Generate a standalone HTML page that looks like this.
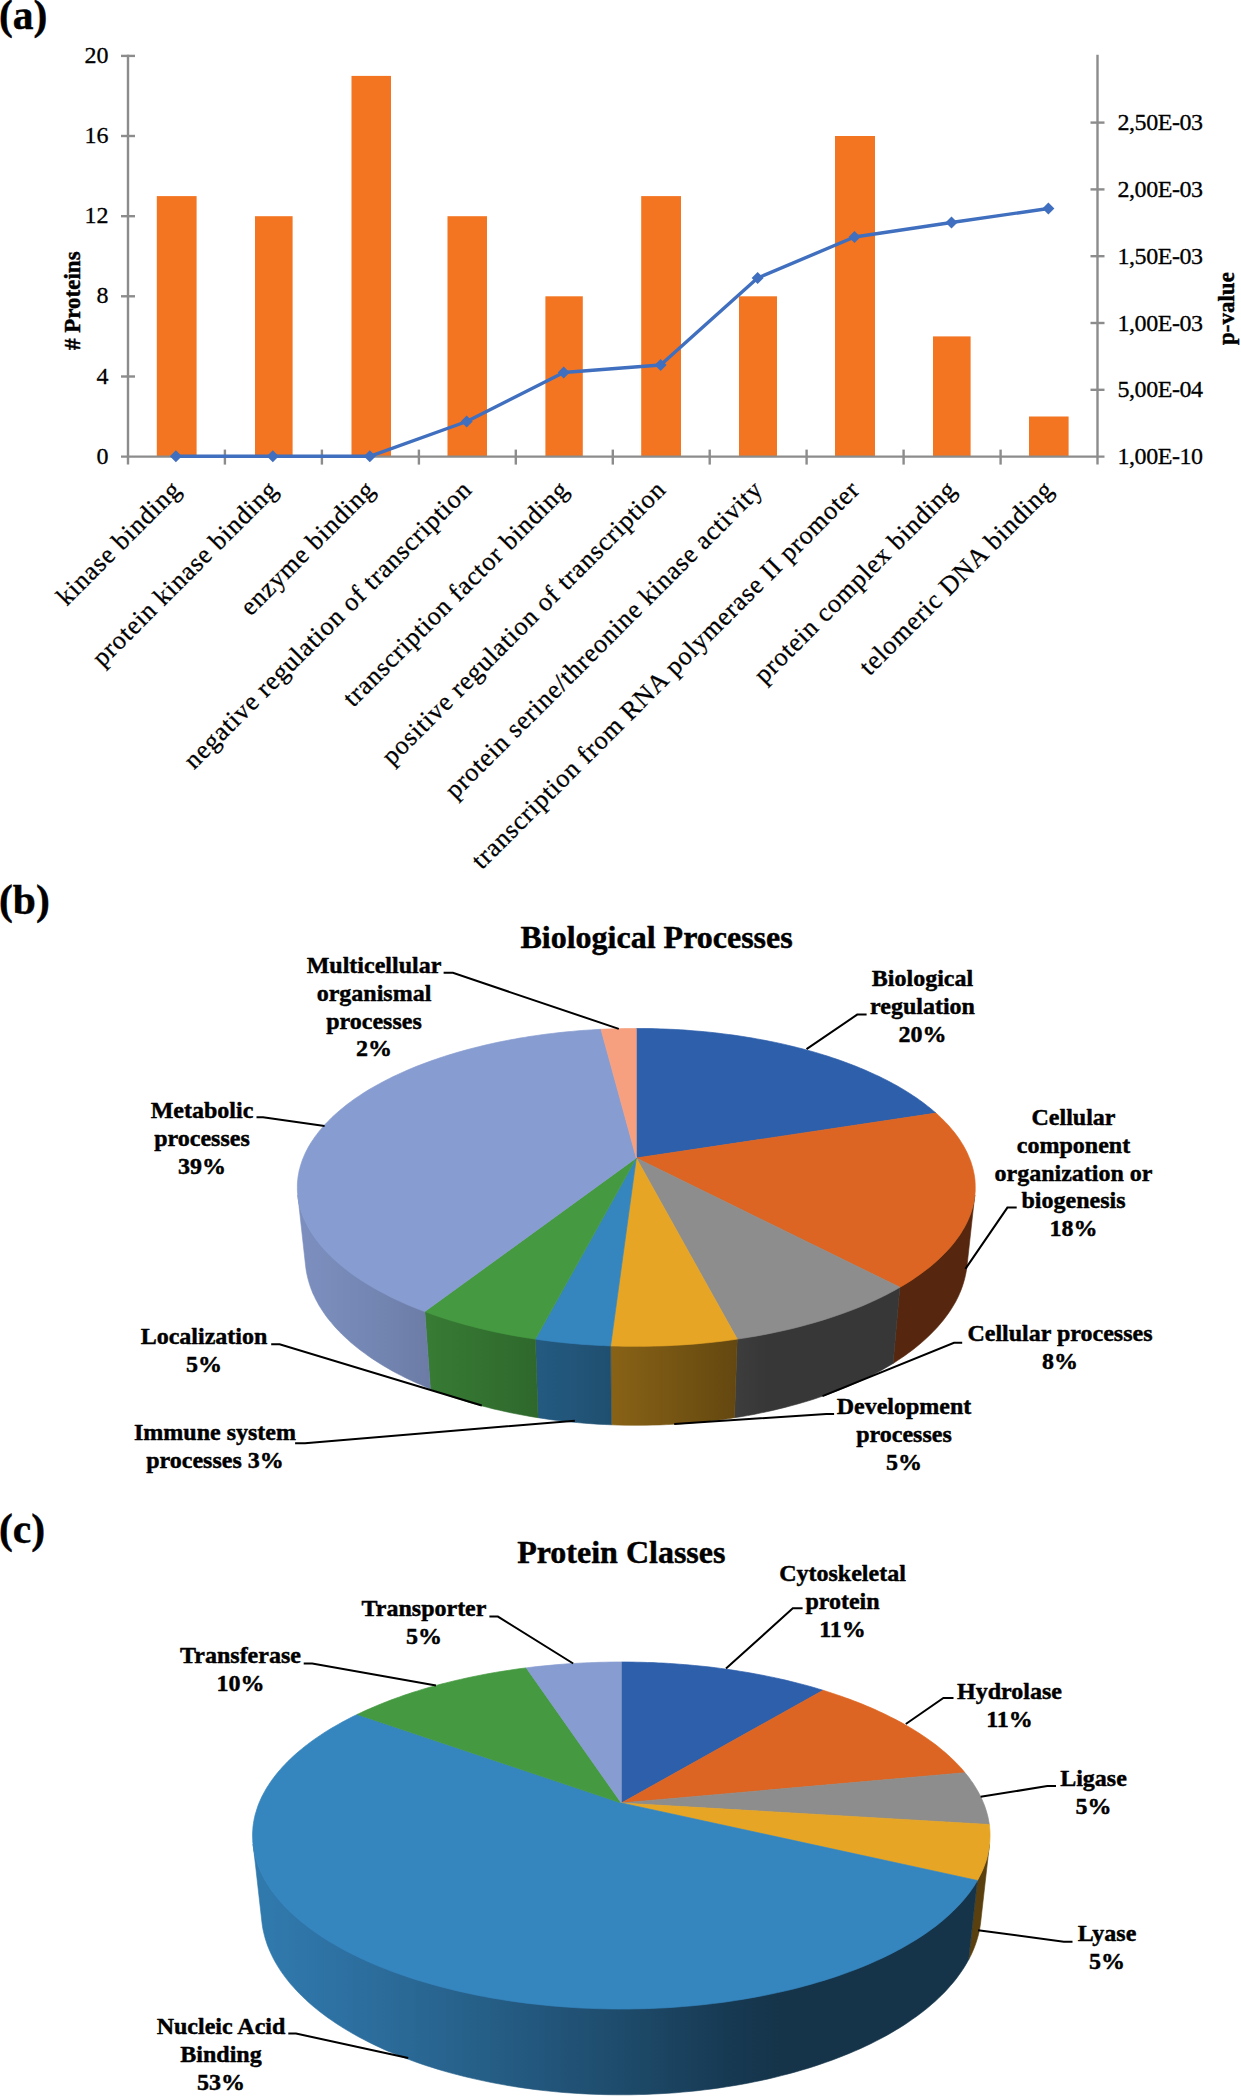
<!DOCTYPE html>
<html lang="en"><head><meta charset="utf-8"><title>Figure</title>
<style>html,body{margin:0;padding:0;background:#fff}svg{display:block}text{font-family:"Liberation Serif", "DejaVu Serif", serif;fill:#000;stroke:#000;stroke-width:0.3px}text[font-weight=bold]{stroke:#000;stroke-width:0.45px;stroke-linejoin:round}</style></head><body>
<svg width="1241" height="2099" viewBox="0 0 1241 2099">
<rect width="1241" height="2099" fill="#fff"/>
<g id="chart-a">
<text x="-1" y="29" font-size="41.5" font-weight="bold">(a)</text>
<rect x="156.8" y="196.1" width="39.8" height="260.5" fill="#f47521"/>
<rect x="255" y="216.2" width="37.6" height="240.4" fill="#f47521"/>
<rect x="351.5" y="75.9" width="39.5" height="380.7" fill="#f47521"/>
<rect x="447.5" y="216.2" width="39.5" height="240.4" fill="#f47521"/>
<rect x="545.4" y="296.3" width="37.4" height="160.3" fill="#f47521"/>
<rect x="641.2" y="196.1" width="39.8" height="260.5" fill="#f47521"/>
<rect x="739" y="296.3" width="38" height="160.3" fill="#f47521"/>
<rect x="835" y="136" width="40" height="320.6" fill="#f47521"/>
<rect x="933" y="336.4" width="37.6" height="120.2" fill="#f47521"/>
<rect x="1029" y="416.5" width="39.6" height="40.1" fill="#f47521"/>
<g stroke="#8c8c8c" stroke-width="2.4" fill="none">
<path d="M128.0 54.699999999999996V464.6"/>
<path d="M1097.5 54.699999999999996V464.6"/>
<path d="M121.0 456.6H1104.5"/>
<path d="M121.0 55.9h14"/>
<path d="M121.0 136h14"/>
<path d="M121.0 216.2h14"/>
<path d="M121.0 296.3h14"/>
<path d="M121.0 376.5h14"/>
<path d="M1090.5 389.8h14"/>
<path d="M1090.5 323h14"/>
<path d="M1090.5 256.2h14"/>
<path d="M1090.5 189.4h14"/>
<path d="M1090.5 122.6h14"/>
<path d="M224.9 449.6v15"/>
<path d="M321.9 449.6v15"/>
<path d="M418.9 449.6v15"/>
<path d="M515.8 449.6v15"/>
<path d="M612.8 449.6v15"/>
<path d="M709.7 449.6v15"/>
<path d="M806.6 449.6v15"/>
<path d="M903.6 449.6v15"/>
<path d="M1000.6 449.6v15"/>
</g>
<g font-size="24" text-anchor="end">
<text x="108.5" y="62.9">20</text>
<text x="108.5" y="143">16</text>
<text x="108.5" y="223.2">12</text>
<text x="108.5" y="303.3">8</text>
<text x="108.5" y="383.5">4</text>
<text x="108.5" y="463.6">0</text>
</g>
<g font-size="24" letter-spacing="-0.45">
<text x="1117.5" y="464.2">1,00E-10</text>
<text x="1117.5" y="397.4">5,00E-04</text>
<text x="1117.5" y="330.6">1,00E-03</text>
<text x="1117.5" y="263.8">1,50E-03</text>
<text x="1117.5" y="197">2,00E-03</text>
<text x="1117.5" y="130.2">2,50E-03</text>
</g>
<text transform="translate(79.9 350) rotate(-90)" font-size="23" font-weight="bold"># Proteins</text>
<text transform="translate(1233.5 345) rotate(-90)" font-size="23" font-weight="bold">p-value</text>
<path d="M175.9 456.3 L272.8 456.3 L369.8 456.3 L466.7 421.5 L563.7 372.5 L660.6 365 L757.6 278 L854.5 237 L951.5 222.5 L1048.4 208.5" fill="none" stroke="#3f6fbe" stroke-width="3.4" stroke-linejoin="round"/>
<path d="M169.9 456.3L175.9 450.3L181.9 456.3L175.9 462.3Z" fill="#3f6fbe"/>
<path d="M266.8 456.3L272.8 450.3L278.8 456.3L272.8 462.3Z" fill="#3f6fbe"/>
<path d="M363.8 456.3L369.8 450.3L375.8 456.3L369.8 462.3Z" fill="#3f6fbe"/>
<path d="M460.7 421.5L466.7 415.5L472.7 421.5L466.7 427.5Z" fill="#3f6fbe"/>
<path d="M557.7 372.5L563.7 366.5L569.7 372.5L563.7 378.5Z" fill="#3f6fbe"/>
<path d="M654.6 365L660.6 359L666.6 365L660.6 371Z" fill="#3f6fbe"/>
<path d="M751.6 278L757.6 272L763.6 278L757.6 284Z" fill="#3f6fbe"/>
<path d="M848.5 237L854.5 231L860.5 237L854.5 243Z" fill="#3f6fbe"/>
<path d="M945.5 222.5L951.5 216.5L957.5 222.5L951.5 228.5Z" fill="#3f6fbe"/>
<path d="M1042.4 208.5L1048.4 202.5L1054.4 208.5L1048.4 214.5Z" fill="#3f6fbe"/>
<g font-size="26" text-anchor="end" letter-spacing="0.8">
<text transform="translate(182.5 491) rotate(-45)">kinase binding</text>
<text transform="translate(279.4 491) rotate(-45)">protein kinase binding</text>
<text transform="translate(376.4 491) rotate(-45)">enzyme binding</text>
<text transform="translate(473.3 491) rotate(-45)">negative regulation of transcription</text>
<text transform="translate(570.3 491) rotate(-45)">transcription factor binding</text>
<text transform="translate(667.2 491) rotate(-45)">positive regulation of transcription</text>
<text transform="translate(764.2 491) rotate(-45)">protein serine/threonine kinase activity</text>
<text transform="translate(861.1 491) rotate(-45)">transcription from RNA polymerase II promoter</text>
<text transform="translate(958.1 491) rotate(-45)">protein complex binding</text>
<text transform="translate(1055 491) rotate(-45)">telomeric DNA binding</text>
</g>
</g>
<text x="-1" y="914.3" font-size="41.5" font-weight="bold">(b)</text>
<text x="656.6" y="948" font-size="32" font-weight="bold" text-anchor="middle">Biological Processes</text>
<g id="pieb">
<defs><linearGradient id="piebg1" gradientUnits="userSpaceOnUse" x1="893.1" y1="0" x2="974.8" y2="0"><stop offset="0.042" stop-color="#56270e"/><stop offset="0.303" stop-color="#56270e"/><stop offset="0.521" stop-color="#56270e"/><stop offset="0.695" stop-color="#56270e"/><stop offset="0.824" stop-color="#56270e"/><stop offset="0.909" stop-color="#56270e"/><stop offset="0.952" stop-color="#56270e"/></linearGradient><linearGradient id="piebg2" gradientUnits="userSpaceOnUse" x1="734.5" y1="0" x2="899.9" y2="0"><stop offset="0.008" stop-color="#3d3d3d"/><stop offset="0.198" stop-color="#373737"/><stop offset="0.379" stop-color="#373737"/><stop offset="0.549" stop-color="#373737"/><stop offset="0.707" stop-color="#373737"/><stop offset="0.850" stop-color="#373737"/><stop offset="0.979" stop-color="#373737"/></linearGradient><linearGradient id="piebg3" gradientUnits="userSpaceOnUse" x1="610.6" y1="0" x2="737.2" y2="0"><stop offset="0.003" stop-color="#886216"/><stop offset="0.169" stop-color="#825e15"/><stop offset="0.336" stop-color="#7c5914"/><stop offset="0.502" stop-color="#765513"/><stop offset="0.667" stop-color="#705112"/><stop offset="0.829" stop-color="#6a4c11"/><stop offset="0.989" stop-color="#644810"/></linearGradient><linearGradient id="piebg4" gradientUnits="userSpaceOnUse" x1="535.4" y1="0" x2="611.3" y2="0"><stop offset="0.018" stop-color="#245a81"/><stop offset="0.177" stop-color="#23587e"/><stop offset="0.338" stop-color="#22577c"/><stop offset="0.501" stop-color="#225579"/><stop offset="0.665" stop-color="#215376"/><stop offset="0.830" stop-color="#205173"/><stop offset="0.995" stop-color="#1f4f70"/></linearGradient><linearGradient id="piebg5" gradientUnits="userSpaceOnUse" x1="424.8" y1="0" x2="538.1" y2="0"><stop offset="0.025" stop-color="#377b34"/><stop offset="0.169" stop-color="#367833"/><stop offset="0.321" stop-color="#357532"/><stop offset="0.479" stop-color="#337230"/><stop offset="0.644" stop-color="#326f2f"/><stop offset="0.813" stop-color="#306c2e"/><stop offset="0.988" stop-color="#2f682c"/></linearGradient><linearGradient id="piebg6" gradientUnits="userSpaceOnUse" x1="297.8" y1="0" x2="430.4" y2="0"><stop offset="0.030" stop-color="#7b8ebd"/><stop offset="0.062" stop-color="#7b8ebd"/><stop offset="0.128" stop-color="#7a8dbd"/><stop offset="0.228" stop-color="#798cba"/><stop offset="0.365" stop-color="#7789b7"/><stop offset="0.536" stop-color="#7486b3"/><stop offset="0.742" stop-color="#7082ad"/><stop offset="0.979" stop-color="#6c7ca6"/></linearGradient></defs>
<path d="M974.8 1195.1 L974.4 1197.9 L974 1200.7 L973.4 1203.5 L972.7 1206.3 L971.9 1209.1 L971 1211.9 L970 1214.7 L968.9 1217.5 L967.7 1220.3 L966.3 1223.1 L964.9 1225.9 L963.3 1228.7 L961.6 1231.4 L959.8 1234.2 L957.9 1237 L955.9 1239.8 L953.7 1242.5 L951.5 1245.3 L949.1 1248 L946.6 1250.7 L944 1253.4 L941.3 1256.1 L938.5 1258.8 L935.6 1261.4 L932.5 1264.1 L929.3 1266.7 L926 1269.3 L922.6 1271.9 L919.1 1274.4 L915.5 1276.9 L911.8 1279.4 L907.9 1281.9 L903.9 1284.3 L899.9 1286.7 L893.1 1363.4 L897.1 1360.8 L900.9 1358.3 L904.7 1355.7 L908.4 1353 L911.9 1350.4 L915.4 1347.7 L918.7 1345 L921.9 1342.3 L925 1339.5 L928 1336.7 L930.9 1333.9 L933.7 1331.1 L936.4 1328.3 L938.9 1325.4 L941.4 1322.6 L943.7 1319.7 L945.9 1316.8 L948 1313.9 L950 1311 L951.9 1308.1 L953.7 1305.1 L955.4 1302.2 L956.9 1299.3 L958.4 1296.3 L959.7 1293.3 L960.9 1290.4 L962 1287.4 L963 1284.5 L963.9 1281.5 L964.7 1278.6 L965.4 1275.6 L966 1272.7 L966.5 1269.7 L966.9 1266.8Z" fill="url(#piebg1)" stroke="url(#piebg1)" stroke-width="0.6"/>
<path d="M899.9 1286.7 L895.6 1289.2 L891.3 1291.5 L886.8 1293.9 L882.2 1296.2 L877.5 1298.5 L872.7 1300.7 L867.8 1302.9 L862.8 1305.1 L857.7 1307.2 L852.5 1309.2 L847.2 1311.2 L841.7 1313.2 L836.2 1315.1 L830.7 1317 L825 1318.8 L819.2 1320.6 L813.3 1322.3 L807.4 1324 L801.4 1325.6 L795.3 1327.2 L789.1 1328.7 L782.8 1330.1 L776.5 1331.5 L770.1 1332.8 L763.6 1334.1 L757.1 1335.3 L750.5 1336.4 L743.9 1337.5 L737.2 1338.5 L734.5 1417.7 L741 1416.7 L747.5 1415.6 L753.9 1414.4 L760.2 1413.1 L766.5 1411.8 L772.7 1410.4 L778.9 1408.9 L785 1407.4 L791 1405.8 L796.9 1404.2 L802.8 1402.5 L808.6 1400.8 L814.3 1399 L819.9 1397.1 L825.5 1395.2 L830.9 1393.2 L836.3 1391.2 L841.6 1389.1 L846.8 1387 L851.8 1384.8 L856.8 1382.6 L861.7 1380.4 L866.5 1378 L871.2 1375.7 L875.8 1373.3 L880.3 1370.9 L884.6 1368.4 L888.9 1365.9 L893.1 1363.4Z" fill="url(#piebg2)" stroke="url(#piebg2)" stroke-width="0.6"/>
<path d="M737.2 1338.5 L730.4 1339.5 L723.6 1340.4 L716.7 1341.2 L709.8 1342 L702.9 1342.6 L695.9 1343.3 L688.8 1343.8 L681.8 1344.3 L674.7 1344.7 L667.6 1345.1 L660.5 1345.3 L653.4 1345.5 L646.3 1345.7 L639.2 1345.7 L632 1345.7 L624.9 1345.7 L617.8 1345.5 L610.6 1345.3 L611.3 1424.8 L618.3 1425.1 L625.2 1425.2 L632.1 1425.3 L639.1 1425.3 L646 1425.2 L652.9 1425.1 L659.9 1424.9 L666.8 1424.6 L673.7 1424.2 L680.6 1423.8 L687.4 1423.3 L694.2 1422.7 L701 1422.1 L707.8 1421.3 L714.5 1420.5 L721.2 1419.7 L727.9 1418.8 L734.5 1417.7Z" fill="url(#piebg3)" stroke="url(#piebg3)" stroke-width="0.6"/>
<path d="M610.6 1345.3 L603.7 1345 L596.7 1344.7 L589.8 1344.2 L582.9 1343.8 L576 1343.2 L569.1 1342.6 L562.3 1341.9 L555.5 1341.2 L548.7 1340.3 L542 1339.5 L535.4 1338.5 L538.1 1417.7 L544.6 1418.7 L551.1 1419.7 L557.7 1420.5 L564.3 1421.3 L570.9 1422 L577.6 1422.6 L584.3 1423.2 L591 1423.7 L597.8 1424.2 L604.6 1424.5 L611.3 1424.8Z" fill="url(#piebg4)" stroke="url(#piebg4)" stroke-width="0.6"/>
<path d="M535.4 1338.5 L528.6 1337.5 L522 1336.4 L515.3 1335.3 L508.8 1334.1 L502.3 1332.8 L495.8 1331.5 L489.5 1330.1 L483.2 1328.6 L477 1327.1 L470.8 1325.5 L464.8 1323.9 L458.8 1322.2 L452.9 1320.5 L447.1 1318.7 L441.4 1316.8 L435.7 1314.9 L430.2 1313 L424.8 1311 L430.4 1388.9 L435.7 1390.9 L441.1 1393 L446.5 1395 L452.1 1396.9 L457.8 1398.8 L463.5 1400.6 L469.3 1402.4 L475.2 1404.1 L481.2 1405.7 L487.3 1407.3 L493.4 1408.9 L499.6 1410.3 L505.9 1411.7 L512.2 1413.1 L518.6 1414.3 L525.1 1415.5 L531.6 1416.7 L538.1 1417.7Z" fill="url(#piebg5)" stroke="url(#piebg5)" stroke-width="0.6"/>
<path d="M424.8 1311 L419.6 1309 L414.4 1307 L409.4 1304.9 L404.5 1302.8 L399.7 1300.6 L394.9 1298.4 L390.3 1296.2 L385.8 1293.9 L381.4 1291.6 L377.1 1289.2 L372.9 1286.8 L368.8 1284.4 L364.9 1282 L361 1279.5 L357.2 1277 L353.6 1274.5 L350.1 1271.9 L346.7 1269.4 L343.4 1266.8 L340.2 1264.2 L337.1 1261.5 L334.2 1258.9 L331.3 1256.2 L328.6 1253.5 L326 1250.8 L323.5 1248.1 L321.2 1245.3 L318.9 1242.6 L316.8 1239.8 L314.7 1237 L312.8 1234.3 L311 1231.5 L309.3 1228.7 L307.8 1225.9 L306.3 1223.1 L305 1220.3 L303.7 1217.5 L302.6 1214.7 L301.6 1211.9 L300.7 1209.1 L299.9 1206.3 L299.2 1203.5 L298.6 1200.7 L298.2 1197.9 L297.8 1195.1 L305.7 1266.8 L306.1 1269.7 L306.6 1272.7 L307.2 1275.6 L307.9 1278.6 L308.7 1281.5 L309.6 1284.5 L310.6 1287.5 L311.7 1290.4 L312.9 1293.4 L314.3 1296.3 L315.7 1299.3 L317.3 1302.2 L318.9 1305.2 L320.7 1308.1 L322.6 1311 L324.6 1314 L326.7 1316.9 L328.9 1319.8 L331.3 1322.6 L333.7 1325.5 L336.3 1328.4 L339 1331.2 L341.7 1334 L344.6 1336.8 L347.7 1339.6 L350.8 1342.4 L354 1345.1 L357.3 1347.8 L360.8 1350.5 L364.4 1353.1 L368 1355.8 L371.8 1358.4 L375.7 1360.9 L379.7 1363.5 L383.8 1366 L388 1368.4 L392.3 1370.9 L396.7 1373.3 L401.2 1375.6 L405.8 1377.9 L410.6 1380.2 L415.4 1382.4 L420.3 1384.6 L425.3 1386.8 L430.4 1388.9Z" fill="url(#piebg6)" stroke="url(#piebg6)" stroke-width="0.6"/>
<path d="M636.3 1158 L636.3 1028.5 L641.2 1028.5 L646.1 1028.5 L651 1028.6 L655.9 1028.7 L660.8 1028.9 L665.7 1029.1 L670.6 1029.3 L675.5 1029.5 L680.4 1029.8 L685.2 1030.1 L690.1 1030.5 L694.9 1030.9 L699.8 1031.3 L704.6 1031.7 L709.4 1032.2 L714.3 1032.7 L719 1033.3 L723.8 1033.9 L728.6 1034.5 L733.4 1035.1 L738.1 1035.8 L742.8 1036.5 L747.5 1037.3 L752.2 1038 L756.9 1038.9 L761.5 1039.7 L766.1 1040.6 L770.7 1041.5 L775.3 1042.4 L779.9 1043.4 L784.4 1044.4 L788.9 1045.5 L793.4 1046.6 L797.8 1047.7 L802.2 1048.8 L806.6 1050 L811 1051.2 L815.3 1052.4 L819.6 1053.7 L823.8 1055 L828.1 1056.3 L832.2 1057.7 L836.4 1059.1 L840.5 1060.5 L844.6 1062 L848.6 1063.5 L852.6 1065 L856.6 1066.6 L860.5 1068.2 L864.4 1069.8 L868.2 1071.5 L871.9 1073.2 L875.7 1074.9 L879.4 1076.6 L883 1078.4 L886.6 1080.2 L890.1 1082.1 L893.6 1083.9 L897 1085.8 L900.3 1087.7 L903.7 1089.7 L906.9 1091.7 L910.1 1093.7 L913.2 1095.8 L916.3 1097.8 L919.3 1099.9 L922.3 1102.1 L925.1 1104.2 L927.9 1106.4 L930.7 1108.6 L933.4 1110.9 L936 1113.1Z" fill="#2e5fab" stroke="#2e5fab" stroke-width="0.7" stroke-linejoin="round"/>
<path d="M636.3 1158 L936 1113.1 L938.5 1115.4 L940.9 1117.7 L943.3 1120.1 L945.6 1122.4 L947.9 1124.8 L950 1127.2 L952.1 1129.7 L954.1 1132.1 L956 1134.6 L957.8 1137.1 L959.6 1139.6 L961.2 1142.2 L962.8 1144.7 L964.3 1147.3 L965.7 1149.9 L967 1152.5 L968.2 1155.2 L969.3 1157.9 L970.4 1160.5 L971.3 1163.2 L972.1 1165.9 L972.9 1168.7 L973.5 1171.4 L974.1 1174.2 L974.5 1176.9 L974.9 1179.7 L975.1 1182.5 L975.2 1185.3 L975.2 1188.1 L975.2 1190.9 L975 1193.8 L974.7 1196.6 L974.3 1199.4 L973.8 1202.3 L973.1 1205.1 L972.4 1208 L971.5 1210.9 L970.6 1213.7 L969.5 1216.6 L968.3 1219.4 L967 1222.3 L965.6 1225.1 L964 1228 L962.3 1230.8 L960.6 1233.7 L958.7 1236.5 L956.6 1239.3 L954.5 1242.2 L952.2 1245 L949.9 1247.8 L947.4 1250.5 L944.7 1253.3 L942 1256 L939.2 1258.8 L936.2 1261.5 L933.1 1264.2 L929.9 1266.9 L926.5 1269.5 L923.1 1272.1 L919.5 1274.7 L915.8 1277.3 L912 1279.9 L908.1 1282.4 L904 1284.9 L899.9 1287.3Z" fill="#dd6523" stroke="#dd6523" stroke-width="0.7" stroke-linejoin="round"/>
<path d="M636.3 1158 L899.9 1287.3 L895.6 1289.8 L891.3 1292.1 L886.8 1294.5 L882.2 1296.8 L877.5 1299.1 L872.7 1301.3 L867.8 1303.5 L862.8 1305.7 L857.7 1307.8 L852.5 1309.8 L847.2 1311.8 L841.7 1313.8 L836.2 1315.7 L830.7 1317.6 L825 1319.4 L819.2 1321.2 L813.3 1322.9 L807.4 1324.6 L801.4 1326.2 L795.3 1327.8 L789.1 1329.3 L782.8 1330.7 L776.5 1332.1 L770.1 1333.4 L763.6 1334.7 L757.1 1335.9 L750.5 1337 L743.9 1338.1 L737.2 1339.1Z" fill="#8d8d8d" stroke="#8d8d8d" stroke-width="0.7" stroke-linejoin="round"/>
<path d="M636.3 1158 L737.2 1339.1 L730.4 1340.1 L723.6 1341 L716.7 1341.8 L709.8 1342.6 L702.9 1343.2 L695.9 1343.9 L688.8 1344.4 L681.8 1344.9 L674.7 1345.3 L667.6 1345.7 L660.5 1345.9 L653.4 1346.1 L646.3 1346.3 L639.2 1346.3 L632 1346.3 L624.9 1346.3 L617.8 1346.1 L610.6 1345.9Z" fill="#e6a525" stroke="#e6a525" stroke-width="0.7" stroke-linejoin="round"/>
<path d="M636.3 1158 L610.6 1345.9 L603.7 1345.6 L596.7 1345.3 L589.8 1344.8 L582.9 1344.4 L576 1343.8 L569.1 1343.2 L562.3 1342.5 L555.5 1341.8 L548.7 1340.9 L542 1340.1 L535.4 1339.1Z" fill="#3585be" stroke="#3585be" stroke-width="0.7" stroke-linejoin="round"/>
<path d="M636.3 1158 L535.4 1339.1 L528.6 1338.1 L522 1337 L515.3 1335.9 L508.8 1334.7 L502.3 1333.4 L495.8 1332.1 L489.5 1330.7 L483.2 1329.2 L477 1327.7 L470.8 1326.1 L464.8 1324.5 L458.8 1322.8 L452.9 1321.1 L447.1 1319.3 L441.4 1317.4 L435.7 1315.5 L430.2 1313.6 L424.8 1311.6Z" fill="#459a41" stroke="#459a41" stroke-width="0.7" stroke-linejoin="round"/>
<path d="M636.3 1158 L424.8 1311.6 L419.5 1309.6 L414.3 1307.5 L409.1 1305.4 L404.1 1303.2 L399.2 1301 L394.4 1298.8 L389.7 1296.5 L385.2 1294.1 L380.7 1291.8 L376.3 1289.4 L372.1 1287 L368 1284.5 L363.9 1282 L360 1279.5 L356.2 1276.9 L352.6 1274.4 L349 1271.8 L345.6 1269.1 L342.3 1266.5 L339.1 1263.8 L336 1261.1 L333 1258.4 L330.2 1255.7 L327.5 1252.9 L324.9 1250.2 L322.4 1247.4 L320 1244.6 L317.8 1241.8 L315.7 1239 L313.7 1236.1 L311.8 1233.3 L310 1230.5 L308.4 1227.6 L306.9 1224.8 L305.4 1221.9 L304.1 1219.1 L303 1216.2 L301.9 1213.4 L300.9 1210.5 L300.1 1207.7 L299.4 1204.8 L298.8 1202 L298.3 1199.1 L297.9 1196.3 L297.6 1193.4 L297.4 1190.6 L297.4 1187.8 L297.4 1185 L297.5 1182.2 L297.8 1179.4 L298.1 1176.6 L298.6 1173.9 L299.1 1171.1 L299.8 1168.4 L300.5 1165.7 L301.4 1163 L302.3 1160.3 L303.4 1157.6 L304.5 1154.9 L305.7 1152.3 L307 1149.7 L308.4 1147.1 L309.9 1144.5 L311.5 1141.9 L313.2 1139.4 L314.9 1136.9 L316.8 1134.4 L318.7 1131.9 L320.7 1129.4 L322.8 1127 L324.9 1124.6 L327.2 1122.2 L329.5 1119.9 L331.8 1117.5 L334.3 1115.2 L336.8 1113 L339.4 1110.7 L342.1 1108.5 L344.8 1106.3 L347.6 1104.1 L350.5 1101.9 L353.4 1099.8 L356.4 1097.7 L359.5 1095.7 L362.6 1093.6 L365.8 1091.6 L369 1089.6 L372.3 1087.7 L375.7 1085.8 L379.1 1083.9 L382.6 1082 L386.1 1080.2 L389.6 1078.4 L393.2 1076.6 L396.9 1074.9 L400.6 1073.2 L404.4 1071.5 L408.2 1069.8 L412 1068.2 L415.9 1066.6 L419.9 1065.1 L423.8 1063.6 L427.9 1062.1 L431.9 1060.6 L436 1059.2 L440.1 1057.8 L444.3 1056.4 L448.5 1055.1 L452.8 1053.8 L457 1052.5 L461.3 1051.3 L465.7 1050.1 L470 1048.9 L474.4 1047.8 L478.8 1046.7 L483.3 1045.6 L487.8 1044.5 L492.3 1043.5 L496.8 1042.5 L501.4 1041.6 L505.9 1040.7 L510.5 1039.8 L515.2 1039 L519.8 1038.1 L524.5 1037.4 L529.1 1036.6 L533.8 1035.9 L538.6 1035.2 L543.3 1034.6 L548 1033.9 L552.8 1033.4 L557.6 1032.8 L562.4 1032.3 L567.2 1031.8 L572 1031.4 L576.8 1030.9 L581.6 1030.5 L586.5 1030.2 L591.3 1029.9 L596.2 1029.6 L601 1029.3Z" fill="#879cd0" stroke="#879cd0" stroke-width="0.7" stroke-linejoin="round"/>
<path d="M636.3 1158 L601 1029.3 L605.4 1029.1 L609.8 1028.9 L614.2 1028.8 L618.6 1028.7 L623.1 1028.6 L627.5 1028.5 L631.9 1028.5 L636.3 1028.5Z" fill="#f7a07f" stroke="#f7a07f" stroke-width="0.7" stroke-linejoin="round"/>
</g>
<g id="labels-b">
<path d="M443.6 972.8 L452.9 972.8 L618.8 1028.9" fill="none" stroke="#000" stroke-width="2" stroke-linejoin="miter"/>
<path d="M256.5 1117.2 L263 1117.2 L324.6 1126" fill="none" stroke="#000" stroke-width="2" stroke-linejoin="miter"/>
<path d="M271.2 1344.3 L279.6 1344.3 L481.8 1405.5" fill="none" stroke="#000" stroke-width="2" stroke-linejoin="miter"/>
<path d="M295.1 1443.2 L305 1443.2 L574.9 1420.7" fill="none" stroke="#000" stroke-width="2" stroke-linejoin="miter"/>
<path d="M866.6 1014.6 L857.2 1014.6 L806.5 1049.2" fill="none" stroke="#000" stroke-width="2" stroke-linejoin="miter"/>
<path d="M1016.7 1207.6 L1007.4 1207.6 L965.4 1268.9" fill="none" stroke="#000" stroke-width="2" stroke-linejoin="miter"/>
<path d="M962.2 1342.7 L954 1342.7 L822.5 1396.1" fill="none" stroke="#000" stroke-width="2" stroke-linejoin="miter"/>
<path d="M834.1 1413.9 L826.3 1413.9 L674.2 1423.9" fill="none" stroke="#000" stroke-width="2" stroke-linejoin="miter"/>
<text font-size="24" font-weight="bold" text-anchor="middle"><tspan x="374" y="972.8">Multicellular</tspan><tspan x="374" y="1000.6">organismal</tspan><tspan x="374" y="1028.5">processes</tspan><tspan x="374" y="1056.3">2%</tspan></text>
<text font-size="24" font-weight="bold" text-anchor="middle"><tspan x="202" y="1117.8">Metabolic</tspan><tspan x="202" y="1145.6">processes</tspan><tspan x="202" y="1173.5">39%</tspan></text>
<text font-size="24" font-weight="bold" text-anchor="middle"><tspan x="204" y="1343.8">Localization</tspan><tspan x="204" y="1371.6">5%</tspan></text>
<text font-size="24" font-weight="bold" text-anchor="middle"><tspan x="215" y="1439.8">Immune system</tspan><tspan x="215" y="1467.6">processes 3%</tspan></text>
<text font-size="24" font-weight="bold" text-anchor="middle"><tspan x="922.5" y="986.3">Biological</tspan><tspan x="922.5" y="1014.1">regulation</tspan><tspan x="922.5" y="1042">20%</tspan></text>
<text font-size="24" font-weight="bold" text-anchor="middle"><tspan x="1073.5" y="1124.8">Cellular</tspan><tspan x="1073.5" y="1152.6">component</tspan><tspan x="1073.5" y="1180.5">organization or</tspan><tspan x="1073.5" y="1208.3">biogenesis</tspan><tspan x="1073.5" y="1236.2">18%</tspan></text>
<text font-size="24" font-weight="bold" text-anchor="middle"><tspan x="1060" y="1341.3">Cellular processes</tspan><tspan x="1060" y="1369.1">8%</tspan></text>
<text font-size="24" font-weight="bold" text-anchor="middle"><tspan x="904" y="1413.8">Development</tspan><tspan x="904" y="1441.6">processes</tspan><tspan x="904" y="1469.5">5%</tspan></text>
</g>
<text x="-1" y="1542.7" font-size="41.5" font-weight="bold">(c)</text>
<text x="621.3" y="1563" font-size="32" font-weight="bold" text-anchor="middle">Protein Classes</text>
<g id="piec">
<defs><linearGradient id="piecg3" gradientUnits="userSpaceOnUse" x1="968.6" y1="0" x2="989.5" y2="0"><stop offset="0.211" stop-color="#5a400e"/><stop offset="0.361" stop-color="#5a400e"/><stop offset="0.490" stop-color="#5a400e"/><stop offset="0.597" stop-color="#5a400e"/><stop offset="0.682" stop-color="#5a400e"/><stop offset="0.747" stop-color="#5a400e"/><stop offset="0.790" stop-color="#5a400e"/></linearGradient><linearGradient id="piecg4" gradientUnits="userSpaceOnUse" x1="253.1" y1="0" x2="977.4" y2="0"><stop offset="0.006" stop-color="#3079ac"/><stop offset="0.012" stop-color="#3079ad"/><stop offset="0.025" stop-color="#3079ac"/><stop offset="0.044" stop-color="#3077aa"/><stop offset="0.070" stop-color="#2f75a7"/><stop offset="0.103" stop-color="#2e72a4"/><stop offset="0.142" stop-color="#2c6f9f"/><stop offset="0.187" stop-color="#2b6b99"/><stop offset="0.238" stop-color="#296692"/><stop offset="0.294" stop-color="#26618a"/><stop offset="0.353" stop-color="#245b82"/><stop offset="0.416" stop-color="#225479"/><stop offset="0.480" stop-color="#1f4e6f"/><stop offset="0.545" stop-color="#1c4765"/><stop offset="0.609" stop-color="#193f5b"/><stop offset="0.672" stop-color="#163850"/><stop offset="0.731" stop-color="#15344a"/><stop offset="0.786" stop-color="#15344a"/><stop offset="0.836" stop-color="#15344a"/><stop offset="0.881" stop-color="#15344a"/><stop offset="0.919" stop-color="#15344a"/><stop offset="0.951" stop-color="#15344a"/><stop offset="0.976" stop-color="#15344a"/><stop offset="0.994" stop-color="#15344a"/></linearGradient></defs>
<path d="M989.5 1844.1 L989.1 1847.1 L988.6 1850.1 L988 1853 L987.3 1856 L986.5 1859 L985.5 1862 L984.4 1865 L983.3 1867.9 L982 1870.9 L980.6 1873.9 L979.1 1876.9 L977.4 1879.9 L968.6 1959.7 L970.3 1956.6 L971.8 1953.4 L973.2 1950.3 L974.5 1947.1 L975.6 1944 L976.7 1940.8 L977.6 1937.7 L978.5 1934.5 L979.2 1931.4 L979.8 1928.2 L980.3 1925.1 L980.7 1922Z" fill="url(#piecg3)" stroke="url(#piecg3)" stroke-width="0.6"/>
<path d="M977.4 1879.9 L975.6 1882.9 L973.6 1886 L971.5 1889.1 L969.3 1892.2 L967 1895.3 L964.5 1898.3 L961.9 1901.3 L959.2 1904.4 L956.3 1907.4 L953.3 1910.4 L950.2 1913.3 L946.9 1916.3 L943.5 1919.2 L940 1922.1 L936.4 1925 L932.6 1927.9 L928.7 1930.7 L924.7 1933.5 L920.5 1936.3 L916.2 1939 L911.8 1941.7 L907.3 1944.4 L902.7 1947 L897.9 1949.6 L893 1952.2 L888 1954.7 L882.8 1957.2 L877.6 1959.6 L872.2 1962 L866.7 1964.4 L861.1 1966.7 L855.4 1968.9 L849.6 1971.1 L843.7 1973.3 L837.7 1975.4 L831.6 1977.4 L825.4 1979.4 L819.1 1981.3 L812.7 1983.2 L806.2 1985 L799.6 1986.8 L792.9 1988.4 L786.2 1990.1 L779.3 1991.6 L772.4 1993.1 L765.4 1994.6 L758.4 1995.9 L751.2 1997.2 L744.1 1998.5 L736.8 1999.6 L729.5 2000.7 L722.1 2001.8 L714.7 2002.7 L707.3 2003.6 L699.8 2004.4 L692.2 2005.1 L684.7 2005.8 L677.1 2006.4 L669.4 2006.9 L661.8 2007.3 L654.1 2007.7 L646.4 2008 L638.7 2008.2 L631 2008.3 L623.2 2008.4 L615.5 2008.4 L607.8 2008.3 L600.1 2008.1 L592.4 2007.8 L584.7 2007.5 L577 2007.1 L569.4 2006.6 L561.7 2006.1 L554.1 2005.5 L546.6 2004.8 L539.1 2004 L531.6 2003.2 L524.2 2002.3 L516.8 2001.3 L509.4 2000.2 L502.2 1999.1 L494.9 1997.9 L487.8 1996.6 L480.7 1995.3 L473.7 1993.9 L466.7 1992.4 L459.8 1990.9 L453.1 1989.3 L446.3 1987.6 L439.7 1985.9 L433.2 1984.1 L426.7 1982.3 L420.4 1980.4 L414.1 1978.4 L407.9 1976.4 L401.9 1974.3 L395.9 1972.2 L390 1970 L384.3 1967.8 L378.6 1965.5 L373.1 1963.2 L367.7 1960.8 L362.4 1958.4 L357.2 1956 L352.1 1953.5 L347.2 1950.9 L342.3 1948.3 L337.6 1945.7 L333 1943.1 L328.5 1940.4 L324.2 1937.6 L320 1934.9 L315.9 1932.1 L311.9 1929.3 L308.1 1926.4 L304.4 1923.6 L300.8 1920.7 L297.4 1917.8 L294 1914.8 L290.8 1911.9 L287.8 1908.9 L284.8 1905.9 L282 1902.9 L279.4 1899.8 L276.8 1896.8 L274.4 1893.7 L272.1 1890.7 L270 1887.6 L268 1884.5 L266.1 1881.4 L264.3 1878.3 L262.7 1875.2 L261.1 1872.1 L259.8 1869 L258.5 1865.9 L257.4 1862.8 L256.3 1859.6 L255.5 1856.5 L254.7 1853.4 L254 1850.3 L253.5 1847.2 L253.1 1844.1 L261.9 1922 L262.3 1925.2 L262.8 1928.5 L263.5 1931.8 L264.3 1935.1 L265.2 1938.4 L266.2 1941.6 L267.3 1944.9 L268.6 1948.2 L270 1951.5 L271.5 1954.8 L273.1 1958.1 L274.8 1961.3 L276.7 1964.6 L278.7 1967.8 L280.8 1971.1 L283.1 1974.3 L285.5 1977.6 L288 1980.8 L290.6 1984 L293.4 1987.1 L296.2 1990.3 L299.3 1993.4 L302.4 1996.5 L305.6 1999.6 L309 2002.7 L312.5 2005.8 L316.2 2008.8 L319.9 2011.8 L323.8 2014.7 L327.8 2017.7 L332 2020.6 L336.2 2023.4 L340.6 2026.3 L345.1 2029.1 L349.7 2031.8 L354.4 2034.5 L359.2 2037.2 L364.2 2039.8 L369.3 2042.4 L374.4 2044.9 L379.7 2047.4 L385.1 2049.9 L390.6 2052.3 L396.3 2054.6 L402 2056.9 L407.8 2059.1 L413.7 2061.3 L419.7 2063.4 L425.8 2065.5 L432 2067.4 L438.3 2069.4 L444.7 2071.3 L451.1 2073.1 L457.7 2074.8 L464.3 2076.5 L471 2078.1 L477.7 2079.6 L484.6 2081.1 L491.5 2082.5 L498.4 2083.8 L505.4 2085.1 L512.5 2086.3 L519.7 2087.4 L526.8 2088.4 L534.1 2089.4 L541.3 2090.3 L548.7 2091.1 L556 2091.8 L563.4 2092.5 L570.8 2093 L578.2 2093.5 L585.7 2093.9 L593.2 2094.3 L600.7 2094.5 L608.2 2094.7 L615.7 2094.8 L623.2 2094.8 L630.7 2094.8 L638.2 2094.6 L645.7 2094.4 L653.2 2094.1 L660.6 2093.7 L668.1 2093.3 L675.5 2092.8 L682.9 2092.1 L690.3 2091.4 L697.6 2090.7 L704.9 2089.8 L712.1 2088.9 L719.4 2087.9 L726.5 2086.8 L733.6 2085.7 L740.7 2084.5 L747.7 2083.2 L754.6 2081.8 L761.5 2080.4 L768.3 2078.9 L775 2077.3 L781.6 2075.6 L788.2 2073.9 L794.7 2072.2 L801.1 2070.3 L807.5 2068.4 L813.7 2066.5 L819.8 2064.4 L825.9 2062.3 L831.9 2060.2 L837.7 2058 L843.5 2055.7 L849.2 2053.4 L854.7 2051.1 L860.2 2048.7 L865.5 2046.2 L870.8 2043.7 L875.9 2041.1 L880.9 2038.5 L885.8 2035.9 L890.6 2033.2 L895.2 2030.4 L899.8 2027.7 L904.2 2024.9 L908.5 2022 L912.7 2019.1 L916.8 2016.2 L920.7 2013.3 L924.6 2010.3 L928.3 2007.3 L931.8 2004.2 L935.3 2001.2 L938.6 1998.1 L941.8 1995 L944.9 1991.9 L947.8 1988.7 L950.6 1985.5 L953.3 1982.4 L955.9 1979.2 L958.3 1975.9 L960.6 1972.7 L962.8 1969.5 L964.9 1966.2 L966.8 1963 L968.6 1959.7Z" fill="url(#piecg4)" stroke="url(#piecg4)" stroke-width="0.6"/>
<path d="M621.3 1803 L621.3 1662 L626.6 1662 L631.8 1662.1 L637.1 1662.2 L642.4 1662.3 L647.6 1662.5 L652.9 1662.6 L658.2 1662.9 L663.4 1663.1 L668.6 1663.4 L673.9 1663.8 L679.1 1664.2 L684.3 1664.6 L689.5 1665 L694.7 1665.5 L699.9 1666 L705.1 1666.5 L710.2 1667.1 L715.4 1667.7 L720.5 1668.4 L725.6 1669.1 L730.7 1669.8 L735.8 1670.6 L740.8 1671.4 L745.9 1672.2 L750.9 1673.1 L755.9 1674 L760.9 1674.9 L765.8 1675.9 L770.7 1676.9 L775.6 1677.9 L780.5 1679 L785.4 1680.1 L790.2 1681.3 L795 1682.5 L799.7 1683.7 L804.5 1684.9 L809.2 1686.2 L813.8 1687.5 L818.5 1688.9 L823.1 1690.3Z" fill="#2e5fab" stroke="#2e5fab" stroke-width="0.7" stroke-linejoin="round"/>
<path d="M621.3 1803 L823.1 1690.3 L827.6 1691.7 L832.1 1693.2 L836.6 1694.7 L841.1 1696.2 L845.5 1697.8 L849.8 1699.3 L854.2 1701 L858.4 1702.6 L862.7 1704.3 L866.8 1706.1 L871 1707.8 L875.1 1709.6 L879.1 1711.5 L883.1 1713.3 L887 1715.2 L890.9 1717.2 L894.8 1719.1 L898.5 1721.1 L902.3 1723.1 L905.9 1725.2 L909.5 1727.3 L913.1 1729.4 L916.5 1731.6 L920 1733.8 L923.3 1736 L926.6 1738.2 L929.8 1740.5 L933 1742.8 L936.1 1745.1 L939.1 1747.5 L942 1749.9 L944.9 1752.3 L947.7 1754.8 L950.4 1757.3 L953 1759.8 L955.6 1762.3 L958.1 1764.9 L960.5 1767.4 L962.8 1770.1 L965 1772.7Z" fill="#dd6523" stroke="#dd6523" stroke-width="0.7" stroke-linejoin="round"/>
<path d="M621.3 1803 L965 1772.7 L967.1 1775.2 L969.1 1777.8 L970.9 1780.4 L972.8 1783 L974.5 1785.7 L976.1 1788.3 L977.7 1791 L979.2 1793.7 L980.5 1796.4 L981.8 1799.1 L983 1801.9 L984.2 1804.7 L985.2 1807.5 L986.1 1810.3 L986.9 1813.1 L987.7 1815.9 L988.3 1818.8 L988.8 1821.6 L989.3 1824.5Z" fill="#8d8d8d" stroke="#8d8d8d" stroke-width="0.7" stroke-linejoin="round"/>
<path d="M621.3 1803 L989.3 1824.5 L989.6 1827.5 L989.9 1830.6 L990 1833.7 L990 1836.7 L989.9 1839.8 L989.7 1842.9 L989.3 1846 L988.9 1849.2 L988.3 1852.3 L987.6 1855.4 L986.8 1858.5 L985.8 1861.7 L984.7 1864.8 L983.5 1867.9 L982.2 1871.1 L980.7 1874.2 L979.1 1877.3 L977.4 1880.5Z" fill="#e6a525" stroke="#e6a525" stroke-width="0.7" stroke-linejoin="round"/>
<path d="M621.3 1803 L977.4 1880.5 L975.6 1883.6 L973.6 1886.7 L971.5 1889.8 L969.3 1892.9 L966.9 1895.9 L964.4 1899 L961.8 1902.1 L959 1905.1 L956.1 1908.1 L953.1 1911.1 L950 1914.1 L946.7 1917.1 L943.3 1920 L939.7 1923 L936.1 1925.9 L932.2 1928.7 L928.3 1931.6 L924.2 1934.4 L920 1937.2 L915.7 1939.9 L911.3 1942.6 L906.7 1945.3 L902 1948 L897.2 1950.6 L892.2 1953.2 L887.2 1955.7 L882 1958.2 L876.7 1960.6 L871.3 1963 L865.8 1965.4 L860.1 1967.7 L854.4 1969.9 L848.5 1972.1 L842.5 1974.3 L836.5 1976.4 L830.3 1978.4 L824 1980.4 L817.6 1982.3 L811.2 1984.2 L804.6 1986 L798 1987.8 L791.2 1989.5 L784.4 1991.1 L777.5 1992.6 L770.6 1994.1 L763.5 1995.6 L756.4 1996.9 L749.2 1998.2 L742 1999.4 L734.7 2000.6 L727.3 2001.7 L719.9 2002.7 L712.4 2003.6 L704.9 2004.5 L697.3 2005.3 L689.7 2006 L682.1 2006.6 L674.5 2007.2 L666.8 2007.7 L659 2008.1 L651.3 2008.4 L643.6 2008.7 L635.8 2008.8 L628 2009 L620.3 2009 L612.5 2008.9 L604.7 2008.8 L597 2008.6 L589.2 2008.3 L581.5 2008 L573.8 2007.5 L566.1 2007 L558.5 2006.4 L550.8 2005.8 L543.3 2005 L535.7 2004.2 L528.2 2003.4 L520.8 2002.4 L513.3 2001.4 L506 2000.3 L498.7 1999.1 L491.5 1997.9 L484.3 1996.6 L477.2 1995.2 L470.2 1993.7 L463.2 1992.2 L456.4 1990.7 L449.6 1989 L442.9 1987.3 L436.2 1985.5 L429.7 1983.7 L423.3 1981.8 L416.9 1979.9 L410.7 1977.9 L404.5 1975.8 L398.5 1973.7 L392.5 1971.6 L386.7 1969.3 L381 1967.1 L375.4 1964.8 L369.9 1962.4 L364.5 1960 L359.2 1957.5 L354.1 1955 L349 1952.5 L344.1 1949.9 L339.3 1947.3 L334.7 1944.6 L330.1 1941.9 L325.7 1939.2 L321.4 1936.4 L317.3 1933.7 L313.2 1930.8 L309.3 1928 L305.6 1925.1 L301.9 1922.2 L298.4 1919.3 L295 1916.3 L291.8 1913.3 L288.7 1910.4 L285.7 1907.3 L282.8 1904.3 L280.1 1901.3 L277.5 1898.2 L275 1895.1 L272.7 1892.1 L270.5 1889 L268.5 1885.9 L266.5 1882.7 L264.7 1879.6 L263 1876.5 L261.5 1873.4 L260.1 1870.3 L258.8 1867.1 L257.6 1864 L256.5 1860.9 L255.6 1857.7 L254.8 1854.6 L254.1 1851.5 L253.6 1848.4 L253.2 1845.3 L252.8 1842.2 L252.7 1839.1 L252.6 1836 L252.6 1832.9 L252.8 1829.8 L253 1826.8 L253.4 1823.7 L253.9 1820.7 L254.5 1817.7 L255.2 1814.7 L256.1 1811.7 L257 1808.8 L258 1805.8 L259.1 1802.9 L260.4 1800 L261.7 1797.1 L263.2 1794.2 L264.7 1791.4 L266.3 1788.6 L268.1 1785.8 L269.9 1783 L271.8 1780.2 L273.8 1777.5 L275.9 1774.8 L278.1 1772.1 L280.4 1769.4 L282.7 1766.8 L285.2 1764.2 L287.7 1761.6 L290.3 1759.1 L293 1756.5 L295.7 1754.1 L298.6 1751.6 L301.5 1749.2 L304.5 1746.7 L307.5 1744.4 L310.7 1742 L313.9 1739.7 L317.2 1737.4 L320.5 1735.2 L323.9 1732.9 L327.4 1730.7 L330.9 1728.6 L334.5 1726.5 L338.2 1724.4 L341.9 1722.3 L345.7 1720.3 L349.5 1718.3 L353.4 1716.3 L357.3 1714.4Z" fill="#3585be" stroke="#3585be" stroke-width="0.7" stroke-linejoin="round"/>
<path d="M621.3 1803 L357.3 1714.4 L361.3 1712.5 L365.4 1710.6 L369.5 1708.8 L373.7 1707 L377.9 1705.2 L382.1 1703.5 L386.4 1701.8 L390.8 1700.1 L395.1 1698.5 L399.6 1696.9 L404 1695.3 L408.6 1693.8 L413.1 1692.3 L417.7 1690.9 L422.3 1689.4 L427 1688.1 L431.7 1686.7 L436.4 1685.4 L441.2 1684.1 L446 1682.9 L450.8 1681.7 L455.7 1680.5 L460.6 1679.4 L465.5 1678.3 L470.4 1677.2 L475.4 1676.2 L480.4 1675.2 L485.4 1674.2 L490.4 1673.3 L495.5 1672.4 L500.6 1671.6 L505.7 1670.8 L510.8 1670 L516 1669.2 L521.1 1668.5 L526.3 1667.9Z" fill="#459a41" stroke="#459a41" stroke-width="0.7" stroke-linejoin="round"/>
<path d="M621.3 1803 L526.3 1667.9 L531.5 1667.2 L536.7 1666.6 L541.9 1666.1 L547.2 1665.6 L552.4 1665.1 L557.7 1664.6 L562.9 1664.2 L568.2 1663.8 L573.5 1663.5 L578.8 1663.2 L584.1 1662.9 L589.4 1662.7 L594.7 1662.5 L600 1662.3 L605.3 1662.2 L610.7 1662.1 L616 1662 L621.3 1662Z" fill="#879cd0" stroke="#879cd0" stroke-width="0.7" stroke-linejoin="round"/>
</g>
<g id="labels-c">
<path d="M489.4 1616.6 L497.9 1616.6 L573.2 1663.5" fill="none" stroke="#000" stroke-width="2" stroke-linejoin="miter"/>
<path d="M303.7 1663.5 L312.2 1663.5 L436 1685.4" fill="none" stroke="#000" stroke-width="2" stroke-linejoin="miter"/>
<path d="M288.3 2033.5 L296 2033.5 L408.2 2058" fill="none" stroke="#000" stroke-width="2" stroke-linejoin="miter"/>
<path d="M802.6 1608.3 L792.8 1608.3 L726 1668.6" fill="none" stroke="#000" stroke-width="2" stroke-linejoin="miter"/>
<path d="M953.5 1698 L943.4 1698 L905.8 1724" fill="none" stroke="#000" stroke-width="2" stroke-linejoin="miter"/>
<path d="M1056 1786.1 L1047.3 1786.1 L980.6 1796.8" fill="none" stroke="#000" stroke-width="2" stroke-linejoin="miter"/>
<path d="M1072.5 1941.8 L1063.8 1941.8 L978.1 1930.2" fill="none" stroke="#000" stroke-width="2" stroke-linejoin="miter"/>
<text font-size="24" font-weight="bold" text-anchor="middle"><tspan x="424" y="1616.3">Transporter</tspan><tspan x="424" y="1644.1">5%</tspan></text>
<text font-size="24" font-weight="bold" text-anchor="middle"><tspan x="240.5" y="1662.8">Transferase</tspan><tspan x="240.5" y="1690.6">10%</tspan></text>
<text font-size="24" font-weight="bold" text-anchor="middle"><tspan x="221" y="2033.8">Nucleic Acid</tspan><tspan x="221" y="2061.7">Binding</tspan><tspan x="221" y="2089.5">53%</tspan></text>
<text font-size="24" font-weight="bold" text-anchor="middle"><tspan x="842.5" y="1581.3">Cytoskeletal</tspan><tspan x="842.5" y="1609.1">protein</tspan><tspan x="842.5" y="1637">11%</tspan></text>
<text font-size="24" font-weight="bold" text-anchor="middle"><tspan x="1009.5" y="1698.8">Hydrolase</tspan><tspan x="1009.5" y="1726.6">11%</tspan></text>
<text font-size="24" font-weight="bold" text-anchor="middle"><tspan x="1093.5" y="1786.3">Ligase</tspan><tspan x="1093.5" y="1814.1">5%</tspan></text>
<text font-size="24" font-weight="bold" text-anchor="middle"><tspan x="1107" y="1941.3">Lyase</tspan><tspan x="1107" y="1969.1">5%</tspan></text>
</g>
</svg></body></html>
